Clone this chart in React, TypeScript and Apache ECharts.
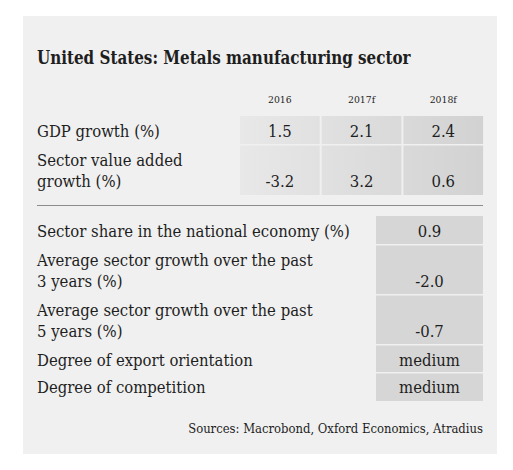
import React, { useEffect, useRef } from 'react';
import * as echarts from 'echarts';

const title = 'United States: Metals manufacturing sector';
const years = ['2016', '2017f', '2018f'];
const topLabels = ['GDP growth (%)', 'Sector value added\ngrowth (%)'];
const gdpGrowth = [1.5, 2.1, 2.4];
const sectorValueAdded = [-3.2, 3.2, 0.6];
const bottomLabels = [
  'Sector share in the national economy (%)',
  'Average sector growth over the past\n3 years (%)',
  'Average sector growth over the past\n5 years (%)',
  'Degree of export orientation',
  'Degree of competition',
];
const bottomValues = ['0.9', '-2.0', '-0.7', 'medium', 'medium'];
const sourceText = 'Sources: Macrobond, Oxford Economics, Atradius';

const FAMILY = '"DejaVu Serif"';
const INK = '#1e1e1e';

function measure(text: string, font: string): number {
  const ctx = document.createElement('canvas').getContext('2d');
  if (!ctx) return 1;
  ctx.font = font;
  return ctx.measureText(text).width || 1;
}

export default function App() {
  const ref = useRef<HTMLDivElement>(null);
  useEffect(() => {
    if (!ref.current) return;
    const chart = echarts.init(ref.current, null, { renderer: 'svg' });

    const labelSize = 16;
    const titleSize = 19;
    const yearSize = 10;
    const srcSize = 13;
    const labelScale = 313 / measure(bottomLabels[0], `${labelSize}px ${FAMILY}`);
    const titleScale = 374 / measure(title, `bold ${titleSize}px ${FAMILY}`);
    const srcScale = 295 / measure(sourceText, `${srcSize}px ${FAMILY}`);

    const txt = (
      text: string,
      x: number,
      baseline: number,
      size: number,
      sx: number,
      align: 'left' | 'center' | 'right' = 'left',
      weight: 'normal' | 'bold' = 'normal'
    ) => ({
      type: 'text',
      x,
      y: baseline - 0.3 * size,
      scaleX: sx,
      silent: true,
      style: {
        text,
        x: 0,
        y: 0,
        fontFamily: FAMILY,
        fontSize: size,
        fontWeight: weight,
        fill: INK,
        align,
        verticalAlign: 'middle',
      },
    });

    const elements: any[] = [];
    // panel
    elements.push({
      type: 'rect',
      shape: { x: 23, y: 16, width: 474, height: 438 },
      style: { fill: '#f0f0f0' },
      silent: true,
    });
    elements.push(txt(title, 37, 63, titleSize, titleScale, 'left', 'bold'));

    // top table
    const colX0 = 240;
    const colW = 79.7;
    const colGap = 2;
    const colCenter = (i: number) => colX0 + i * (colW + colGap) + colW / 2;
    years.forEach((y, i) => elements.push(txt(y, colCenter(i), 102.5, yearSize, labelScale, 'center')));

    const topRowsY = [
      [116, 144],
      [145.5, 195],
    ];
    const topBase = [137, 187];
    const topValues = [gdpGrowth, sectorValueAdded];
    const grad = new echarts.graphic.LinearGradient(
      colX0,
      0,
      483,
      0,
      [
        { offset: 0, color: '#e8e8e8' },
        { offset: 1, color: '#d2d2d2' },
      ],
      true
    );
    topRowsY.forEach(([y0, y1], r) => {
      for (let i = 0; i < 3; i++) {
        elements.push({
          type: 'rect',
          shape: { x: colX0 + i * (colW + colGap), y: y0, width: colW, height: y1 - y0 },
          style: { fill: grad },
          silent: true,
        });
        elements.push(txt(topValues[r][i].toFixed(1), colCenter(i), topBase[r], labelSize, labelScale, 'center'));
      }
      const lines = topLabels[r].split('\n');
      lines.forEach((ln, k) => {
        elements.push(txt(ln, 37, topBase[r] - (lines.length - 1 - k) * 21.5, labelSize, labelScale));
      });
    });

    // divider
    elements.push({
      type: 'line',
      shape: { x1: 37, y1: 205.5, x2: 483, y2: 205.5 },
      style: { stroke: '#8c8c8c', lineWidth: 1 },
      silent: true,
    });

    // bottom table
    const botRowsY = [
      [216, 244],
      [245.5, 294],
      [295.5, 344],
      [345.5, 372],
      [373.5, 401],
    ];
    const botBase = [237, 287, 337, 366, 393];
    const vx0 = 376;
    const vx1 = 483;
    botRowsY.forEach(([y0, y1], r) => {
      elements.push({
        type: 'rect',
        shape: { x: vx0, y: y0, width: vx1 - vx0, height: y1 - y0 },
        style: { fill: '#d6d6d6' },
        silent: true,
      });
      elements.push(txt(bottomValues[r], (vx0 + vx1) / 2, botBase[r], labelSize, labelScale, 'center'));
      const lines = bottomLabels[r].split('\n');
      lines.forEach((ln, k) => {
        elements.push(txt(ln, 37, botBase[r] - (lines.length - 1 - k) * 21.5, labelSize, labelScale));
      });
    });

    elements.push(txt(sourceText, 483, 433, srcSize, srcScale, 'right'));

    chart.setOption({
      animation: false,
      backgroundColor: '#ffffff',
      graphic: { elements },
    });
    return () => chart.dispose();
  }, []);

  return (
    <div
      ref={ref}
      style={{ position: 'fixed', left: 0, top: 0, width: 513, height: 470, background: '#fff' }}
    />
  );
}
